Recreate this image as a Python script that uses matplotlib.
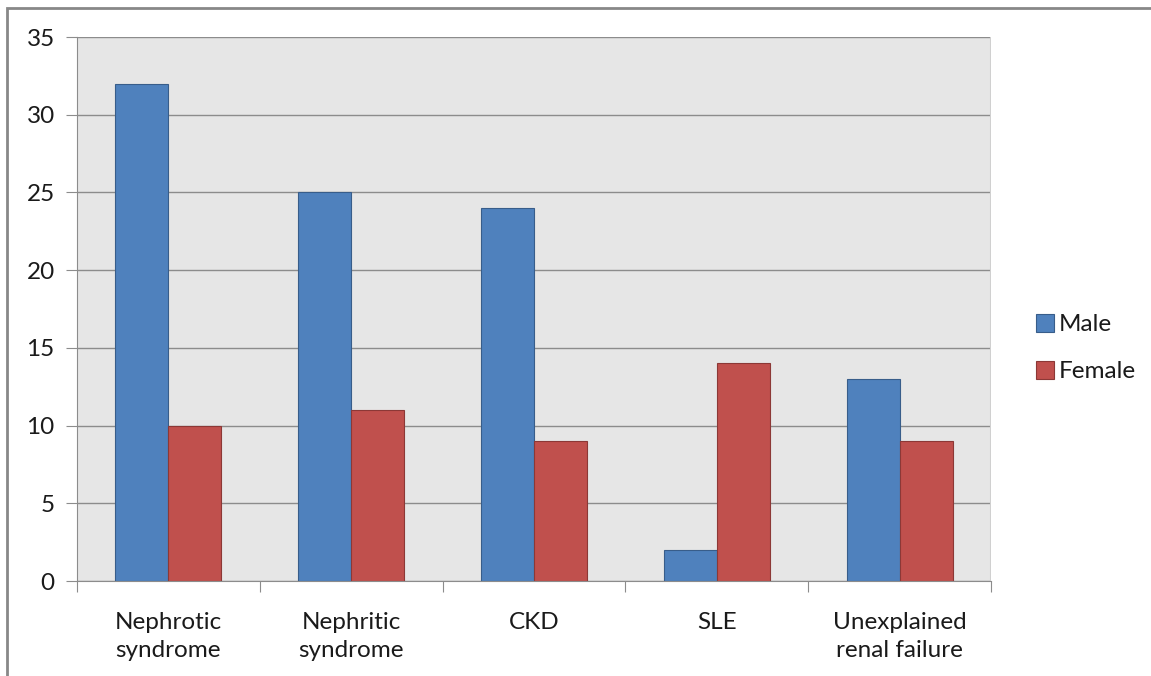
import numpy as np
import matplotlib
matplotlib.use("Agg")
import matplotlib.pyplot as plt
from matplotlib.patches import Rectangle

plt.rcParams['font.family'] = ['Lato', 'DejaVu Sans']

categories = ['Nephrotic\nsyndrome', 'Nephritic\nsyndrome', 'CKD', 'SLE', 'Unexplained\nrenal failure']
male = [32, 25, 24, 2, 13]
female = [10, 11, 9, 14, 9]

W, H = 1151, 676
fig = plt.figure(figsize=(W / 100, H / 100), dpi=100)
ax = fig.add_axes([77 / W, 1 - 581 / H, (991 - 77) / W, (581 - 37) / H])
ax.set_facecolor('#e6e6e6')

x = np.arange(len(categories))
bw = 0.29
ax.bar(x - bw / 2, male, bw, color='#4f81bd', edgecolor='#385d8a', linewidth=0.8, label='Male', zorder=3)
ax.bar(x + bw / 2, female, bw, color='#c0504d', edgecolor='#8c3836', linewidth=0.8, label='Female', zorder=3)

ax.set_xlim(-0.5, len(categories) - 0.5)
ax.set_ylim(0, 35)
ax.set_yticks(range(0, 36, 5))
ax.yaxis.grid(True, color='#8c8c8c', linewidth=1, zorder=0)
ax.set_axisbelow(True)

ax.set_xticks(np.arange(-0.5, len(categories), 1))
ax.set_xticklabels([])
ax.set_xticks(x, minor=True)
ax.set_xticklabels(categories, minor=True, fontsize=17.5, color='#1a1a1a', linespacing=1.45)
ax.tick_params(axis='x', which='minor', length=0, pad=22)
ax.tick_params(axis='x', which='major', length=8, color='#8c8c8c', direction='out')
ax.tick_params(axis='y', length=8, color='#8c8c8c', labelsize=17.5, labelcolor='#1a1a1a', pad=8)

for s in ['top', 'right']:
    ax.spines[s].set_visible(False)
ax.spines['left'].set_color('#8c8c8c')
ax.spines['bottom'].set_color('#8c8c8c')
ax.spines['bottom'].set_zorder(4)
ax.axvline(len(categories) - 0.5, color='#d0d0d0', linewidth=1.5, zorder=1)

leg = fig.legend(loc='upper left', bbox_to_anchor=(1014 / W, 1 - 292 / H), frameon=False,
                 fontsize=17.5, handlelength=0.75, handleheight=0.75, handletextpad=0.2,
                 labelspacing=1.05, labelcolor='#1a1a1a')

fig.patches.append(Rectangle((7 / W, -0.1), 1.2, 1 - 8 / H + 0.1, transform=fig.transFigure,
                             fill=False, edgecolor='#888888', linewidth=2))

fig.savefig('out.png', dpi=100)
